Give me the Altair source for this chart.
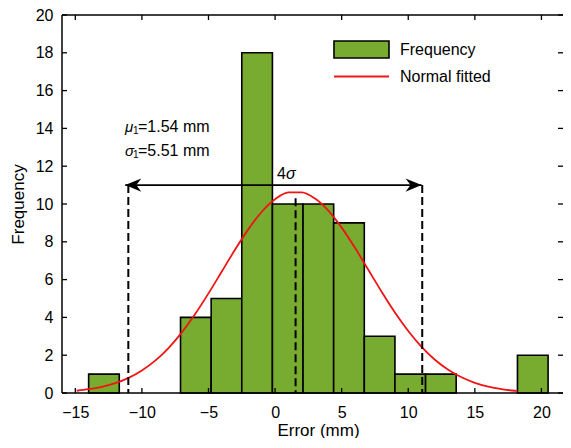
import altair as alt
import pandas as pd

# ---------------- data ----------------
bin_start = [-14.0, -11.7, -9.4, -7.1, -4.8, -2.5, -0.2, 2.1, 4.4, 6.7, 9.0, 11.3, 13.6, 15.9, 18.2]
bin_end = [-11.7, -9.4, -7.1, -4.8, -2.5, -0.2, 2.1, 4.4, 6.7, 9.0, 11.3, 13.6, 15.9, 18.2, 20.5]
counts = [1, 0, 0, 4, 5, 18, 10, 10, 9, 3, 1, 1, 0, 0, 2]

curve_x = [-14.9, -14, -13, -12, -11, -10, -9, -8, -7, -6, -5, -4, -3, -2, -1, 0,
           1, 2, 3, 4, 5, 6, 7, 8, 9, 10, 11, 12, 13, 14, 15, 16, 17, 18, 18.2]
curve_y = [0.12, 0.20, 0.33, 0.52, 0.80, 1.19, 1.71, 2.38, 3.21, 4.18, 5.27, 6.43, 7.59,
           8.67, 9.59, 10.25, 10.61, 10.62, 10.29, 9.65, 8.75, 7.68, 6.52, 5.36, 4.26,
           3.28, 2.44, 1.76, 1.23, 0.83, 0.54, 0.34, 0.21, 0.12, 0.11]

dash_x = [-11.02, 1.54, 11.05]
dash_top = [11.0, 10.3, 11.0]

arrow_y = 11.0
arrow_left = -11.25
arrow_right = 11.0

ann_sym = ["μ", "σ"]
ann_sub = ["1", "1"]
ann_rest = ["=1.54 mm", "=5.51 mm"]
ann_x = [-11.27, -11.27]
ann_y = [14.07, 12.8]

sig_x = [0.15]
sig_y = [11.6]

x_ticks = [-15, -10, -5, 0, 5, 10, 15, 20]
y_ticks = [0, 2, 4, 6, 8, 10, 12, 14, 16, 18, 20]

series_names = ["Frequency", "Normal fitted"]

# ---------------- tables ----------------
hist_df = pd.DataFrame({"x": bin_start, "x2": bin_end, "y": counts, "series": series_names[0]})
curve_df = pd.DataFrame({"x": curve_x, "y": curve_y, "series": series_names[1]})
dash_df = pd.DataFrame({"x": dash_x, "y": dash_top})
arrow_df = pd.DataFrame({"x": [arrow_left], "x2": [arrow_right], "y": [arrow_y]})
head_df = pd.DataFrame({"x": [arrow_left, arrow_right], "y": [arrow_y, arrow_y], "dir": ["left", "right"]})
ann_df = pd.DataFrame({"x": ann_x, "y": ann_y, "sym": ann_sym, "sub": ann_sub, "rest": ann_rest})
sig_df = pd.DataFrame({"x": sig_x, "y": sig_y, "four": ["4"], "sig": ["σ"]})
xt_df = pd.DataFrame({"x": x_ticks})
yt_df = pd.DataFrame({"y": y_ticks})

F = "Liberation Sans"
W, H = 501, 378
GREEN = "#77AC30"
RED = "#F01414"

xscale = alt.Scale(domain=[-16, 21.62], nice=False, zero=False)
yscale = alt.Scale(domain=[0, 20], nice=False, zero=False)
xaxis = alt.Axis(values=x_ticks, title="Error (mm)", ticks=False, tickSize=0, domain=False,
                 grid=False, labelPadding=11, titlePadding=2, titleX=256,
                 labelFlush=False, labelOverlap=False)
yaxis = alt.Axis(values=y_ticks, title="Frequency", ticks=False, tickSize=0, domain=False,
                 grid=False, labelPadding=9, titlePadding=8, labelFlush=False, labelOverlap=False)


def X(f="x"):
    return alt.X(f"{f}:Q", scale=xscale, axis=xaxis, title="Error (mm)")


def Y(f="y"):
    return alt.Y(f"{f}:Q", scale=yscale, axis=yaxis, title="Frequency")


bars = alt.Chart(hist_df).transform_filter("datum.y > 0").mark_bar(
    stroke="black", strokeWidth=1.6, opacity=1
).encode(
    x=X(), x2="x2:Q", y=Y(), y2=alt.datum(0),
    fill=alt.Fill("series:N", scale=alt.Scale(domain=[series_names[0]], range=[GREEN]),
                  legend=alt.Legend(title=None, orient="none", legendX=271, legendY=6, padding=0,
                                    symbolType="M-1,-0.31H1V0.31H-1Z", symbolSize=3025,
                                    symbolStrokeColor="black", symbolStrokeWidth=1.6,
                                    symbolOpacity=1, labelFont=F, labelFontSize=16,
                                    labelColor="black", labelOffset=10)),
)

curve = alt.Chart(curve_df).mark_line(strokeWidth=1.8, interpolate="monotone").encode(
    x=X(), y=Y(),
    stroke=alt.Stroke("series:N", scale=alt.Scale(domain=[series_names[1]], range=[RED]),
                      legend=alt.Legend(title=None, orient="none", legendX=271, legendY=33, padding=0,
                                        symbolType="stroke", symbolSize=3025, symbolStrokeWidth=2,
                                        labelFont=F, labelFontSize=16, labelColor="black",
                                        labelOffset=10)),
)

dashes = alt.Chart(dash_df).mark_rule(color="black", strokeWidth=2, strokeDash=[8, 4]).encode(
    x=X(), y=Y(), y2=alt.datum(0)
)

arrow = alt.Chart(arrow_df).mark_rule(color="black", strokeWidth=1.6).encode(
    x=X(), x2="x2:Q", y=Y()
)

heads = alt.Chart(head_df).mark_point(filled=True, color="black", size=1024, opacity=1, strokeWidth=0).encode(
    x=X(), y=Y(),
    shape=alt.Shape("dir:N", scale=alt.Scale(domain=["left", "right"],
                                             range=["M0,0L1,-0.41L0.69,0L1,0.41Z",
                                                    "M0,0L-1,-0.41L-0.69,0L-1,0.41Z"]),
                    legend=None),
)

# frame: left, bottom and top lines (the right edge lies past the picture's border)
frame_df = pd.DataFrame({"side": ["top", "bottom", "left"]})
frame_top = alt.Chart(frame_df).transform_filter("datum.side == 'top'").mark_rule(
    color="black", strokeWidth=1.5).encode(x=alt.value(0), x2=alt.value(W), y=alt.value(0))
frame_bottom = alt.Chart(frame_df).transform_filter("datum.side == 'bottom'").mark_rule(
    color="black", strokeWidth=1.5).encode(x=alt.value(0), x2=alt.value(W), y=alt.value(H))
frame_left = alt.Chart(frame_df).transform_filter("datum.side == 'left'").mark_rule(
    color="black", strokeWidth=1.5).encode(x=alt.value(0), y=alt.value(0), y2=alt.value(H))

tb = alt.Chart(xt_df).mark_rule(color="black", strokeWidth=1.3).encode(
    x=X(), y=alt.value(H), y2=alt.value(H - 5))
tt = alt.Chart(xt_df).mark_rule(color="black", strokeWidth=1.3).encode(
    x=X(), y=alt.value(0), y2=alt.value(5))
tl = alt.Chart(yt_df).mark_rule(color="black", strokeWidth=1.3).encode(
    y=Y(), x=alt.value(0), x2=alt.value(5))
tr = alt.Chart(yt_df).mark_rule(color="black", strokeWidth=1.3).encode(
    y=Y(), x=alt.value(W), x2=alt.value(W - 5))

sym = alt.Chart(ann_df).mark_text(align="left", baseline="middle", font=F, fontSize=15,
                                  fontStyle="italic", color="black").encode(x=X(), y=Y(), text="sym:N")
sub = alt.Chart(ann_df).mark_text(align="left", baseline="middle", font=F, fontSize=10,
                                  dx=8, dy=4, color="black").encode(x=X(), y=Y(), text="sub:N")
rest = alt.Chart(ann_df).mark_text(align="left", baseline="middle", font=F, fontSize=16,
                                   dx=13, color="black").encode(x=X(), y=Y(), text="rest:N")

four = alt.Chart(sig_df).mark_text(align="left", baseline="middle", font=F, fontSize=16,
                                   color="black").encode(x=X(), y=Y(), text="four:N")
sig = alt.Chart(sig_df).mark_text(align="left", baseline="middle", font=F, fontSize=16,
                                  fontStyle="italic", dx=9, color="black").encode(x=X(), y=Y(), text="sig:N")

chart = alt.layer(
    bars, curve, dashes, arrow, heads, frame_top, frame_bottom, frame_left,
    tb, tt, tl, tr, sym, sub, rest, four, sig
).resolve_scale(fill="independent", stroke="independent").properties(
    width=W, height=H,
    autosize=alt.AutoSizeParams(type="none"),
    padding={"left": 54, "top": 7, "right": 0, "bottom": 45},
).configure_view(
    stroke=None
).configure_axis(
    labelFont=F, labelFontSize=16, labelColor="black",
    titleFont=F, titleFontSize=17, titleFontWeight="normal", titleColor="black",
)

chart.save("out.html", embed_options={"renderer": "svg", "actions": False})
